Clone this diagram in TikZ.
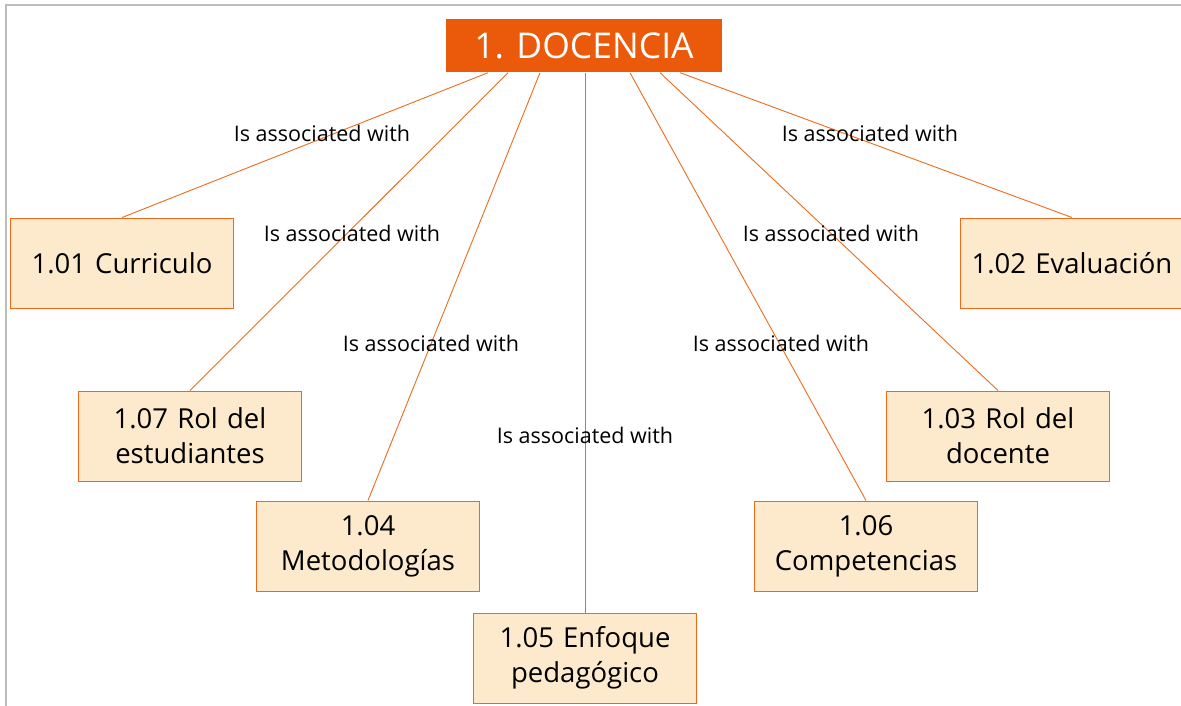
\documentclass[tikz,border=0pt]{standalone}
\usepackage{fontspec}
\setmainfont{Open Sans}
\definecolor{docorange}{HTML}{EB5A0A}
\definecolor{edgeorange}{HTML}{EE6A1A}
\definecolor{boxfill}{HTML}{FDE9CC}
\definecolor{framegray}{HTML}{BDBDBD}
\begin{document}
\begin{tikzpicture}[x=1pt,y=-1pt,
  topic/.style={rectangle,fill=docorange,text=white,minimum width=276pt,minimum height=53pt,
    inner sep=0pt,font=\fontsize{35.5}{40}\selectfont},
  sub/.style={rectangle,draw=edgeorange,line width=1pt,fill=boxfill,minimum width=223pt,
    minimum height=90pt,inner sep=2pt,align=center,text width=219pt,
    font=\fontsize{27.5}{35}\selectfont},
  link/.style={draw=edgeorange,line width=0.9pt},
  rel/.style={font=\fontsize{21.5}{24}\selectfont,inner sep=0pt}]
\useasboundingbox (0,0) rectangle (1181,706);
% frame
\draw[framegray,line width=2pt] (6,706) -- (6,5) -- (1181,5);

\node[topic] (top) at (584,46) {1. DOCENCIA};

\node[sub] (c01) at (122,263) {1.01 Curriculo};
\node[sub] (c02) at (1072,263) {1.02 Evaluación};
\node[sub] (c07) at (190,436) {1.07 Rol del\\estudiantes};
\node[sub] (c03) at (998,436) {1.03 Rol del\\docente};
\node[sub] (c04) at (368,546) {1.04\\Metodologías};
\node[sub] (c06) at (866,546) {1.06\\Competencias};
\node[sub] (c05) at (585,658) {1.05 Enfoque\\pedagógico};

% connectors from the main topic
\draw[link] ([xshift=-96pt]top.south) -- (c01.north);
\draw[link] ([xshift=-76pt]top.south) -- (c07.north);
\draw[link] ([xshift=-44pt]top.south) -- (c04.north);
\draw[link] ([xshift=1pt]top.south) -- (c05.north);
\draw[link] ([xshift=46pt]top.south) -- (c06.north);
\draw[link] ([xshift=76pt]top.south) -- (c03.north);
\draw[link] ([xshift=96pt]top.south) -- (c02.north);

% relation labels
\node[rel] (r01) at (322,133) {Is associated with};
\node[rel] (r07) at (352,233) {Is associated with};
\node[rel] (r04) at (431,343) {Is associated with};
\node[rel] (r05) at (585,435) {Is associated with};
\node[rel] (r06) at (781,343) {Is associated with};
\node[rel] (r03) at (831,233) {Is associated with};
\node[rel] (r02) at (870,133) {Is associated with};
\end{tikzpicture}
\end{document}
